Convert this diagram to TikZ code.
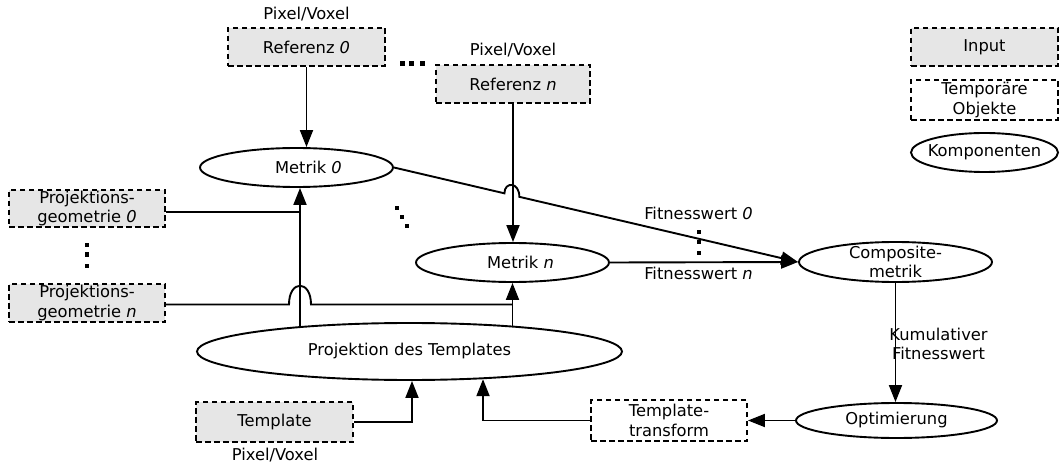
\documentclass[tikz,border=0pt]{standalone}
\usepackage{fontspec}
\setmainfont{DejaVu Sans}
\usetikzlibrary{arrows.meta,shapes.geometric,calc}
\definecolor{ingray}{RGB}{230,230,230}
\pgfdeclarelayer{bg}
\pgfsetlayers{bg,main}
\tikzset{
  inbox/.style={draw, dash pattern=on 5.5pt off 3.5pt, line width=1.9pt, fill=ingray, rectangle, inner sep=0pt, align=center},
  tmpbox/.style={inbox, fill=white},
  comp/.style={draw, ellipse, line width=1.9pt, fill=white, inner sep=0pt},
  arr/.style={line width=1.9pt, -{Triangle[length=17pt,width=13pt]}},
  conn/.style={line width=1.9pt},
  lbl/.style={inner sep=0pt, align=center}
}
\begin{document}
\begin{tikzpicture}[x=1pt,y=-1pt,font=\fontsize{16.3}{19.5}\selectfont]
\useasboundingbox (0,0) rectangle (1060,465);

% input / temporary boxes
\node[inbox, minimum width=157pt, minimum height=38pt] (ref0) at (306.5,47) {Referenz \textit{0}};
\node[inbox, minimum width=154pt, minimum height=38pt] (refn) at (513,84) {Referenz \textit{n}};
\node[inbox, minimum width=156pt, minimum height=37pt] (pg0) at (87,208.5) {Projektions-\\geometrie \textit{0}};
\node[inbox, minimum width=156pt, minimum height=38pt] (pgn) at (87,303) {Projektions-\\geometrie \textit{n}};
\node[inbox, minimum width=157pt, minimum height=40pt] (tpl) at (274.5,422) {Template};
\node[tmpbox, minimum width=156pt, minimum height=41pt] (tt) at (669,420.5) {Template-\\transform};

% components
\node[comp, minimum width=193pt, minimum height=39pt, label={[lbl,xshift=12pt]center:Metrik \textit{0}}] (m0) at (296.5,167.5) {};
\node[comp, minimum width=193pt, minimum height=39pt, label={[lbl,xshift=8pt]center:Metrik \textit{n}}] (mn) at (512.5,262.5) {};
\node[comp, minimum width=193pt, minimum height=40pt, label={[lbl]center:Composite-\\metrik}] (cm) at (895.5,262) {};
\node[comp, minimum width=201pt, minimum height=35pt, label={[lbl]center:Optimierung}] (opt) at (896.5,420.5) {};
\node[comp, minimum width=425pt, minimum height=57pt, label={[lbl]center:Projektion des Templates}] (proj) at (409.5,351.5) {};

% legend
\node[inbox, minimum width=147pt, minimum height=38pt] (lin) at (984.5,47) {Input};
\node[tmpbox, minimum width=147pt, minimum height=40pt] (ltmp) at (984.5,100) {Temporäre\\Objekte};
\node[comp, minimum width=147pt, minimum height=39pt, label={[lbl]center:Komponenten}] (lcomp) at (984.5,152.5) {};

% text labels
\node[lbl] (pv0) at (306.5,14) {Pixel/Voxel};
\node[lbl] (pvn) at (513,50) {Pixel/Voxel};
\node[lbl] (pvt) at (275,455) {Pixel/Voxel};
\node[lbl] (fw0) at (698.5,213) {Fitnesswert \textit{0}};
\node[lbl] (fwn) at (698.5,273) {Fitnesswert \textit{n}};
\node[lbl] (kum) at (938.5,344) {Kumulativer\\Fitnesswert};

% helper coordinates
\coordinate (j0) at (300,211.7);
\coordinate (h0a) at (289,304.5);
\coordinate (h0b) at (311,304.5);
\coordinate (jn) at (512.5,304.5);

\begin{pgfonlayer}{bg}
\draw[arr] (ref0.south) -- (ref0.south |- m0.north);
\draw[arr] (refn.south) -- (refn.south |- mn.north);
\draw[arr] (proj.center -| j0) -- ([xshift=3.5pt]m0.south);
\draw[conn] (pg0.east |- j0) -- (j0);
\draw[conn] (pgn.east |- h0a) -- (h0a) .. controls +(0,-25) and +(0,-25) .. (h0b) -- (jn);
\draw[arr] (proj.center -| mn.south) -- (mn.south);
\draw[arr] (m0.east) -- ($(m0.east)!0.2734!(cm.west)$) .. controls +(0,-12) and +(0,-15) .. ($(m0.east)!0.3103!(cm.west)$) -- (cm.west);
\draw[arr] (mn.east) -- (cm.west);
\draw[arr] (cm.south) -- (cm.south |- opt.north);
\draw[arr] (opt.west) -- (tt.east);
\draw[arr] (tt.west) -| ([xshift=73.5pt,yshift=1.8pt]proj.south);
\draw[arr] (tpl.east) -| ([xshift=2.5pt]proj.south);
\end{pgfonlayer}

% dots
\foreach \p in {(402.5,63.8),(411.8,63.8),(422.2,63.8),(87,245),(87,254.7),(87,265.8)}
  \fill \p ++(-2.4,-2.3) rectangle ++(4.8,4.6);
\foreach \p in {(396.7,207.7),(402,217),(407,226),(699,232.3),(699,242.3),(699,253.3)}
  \fill \p ++(-2,-2) rectangle ++(4,4);
\end{tikzpicture}
\end{document}
